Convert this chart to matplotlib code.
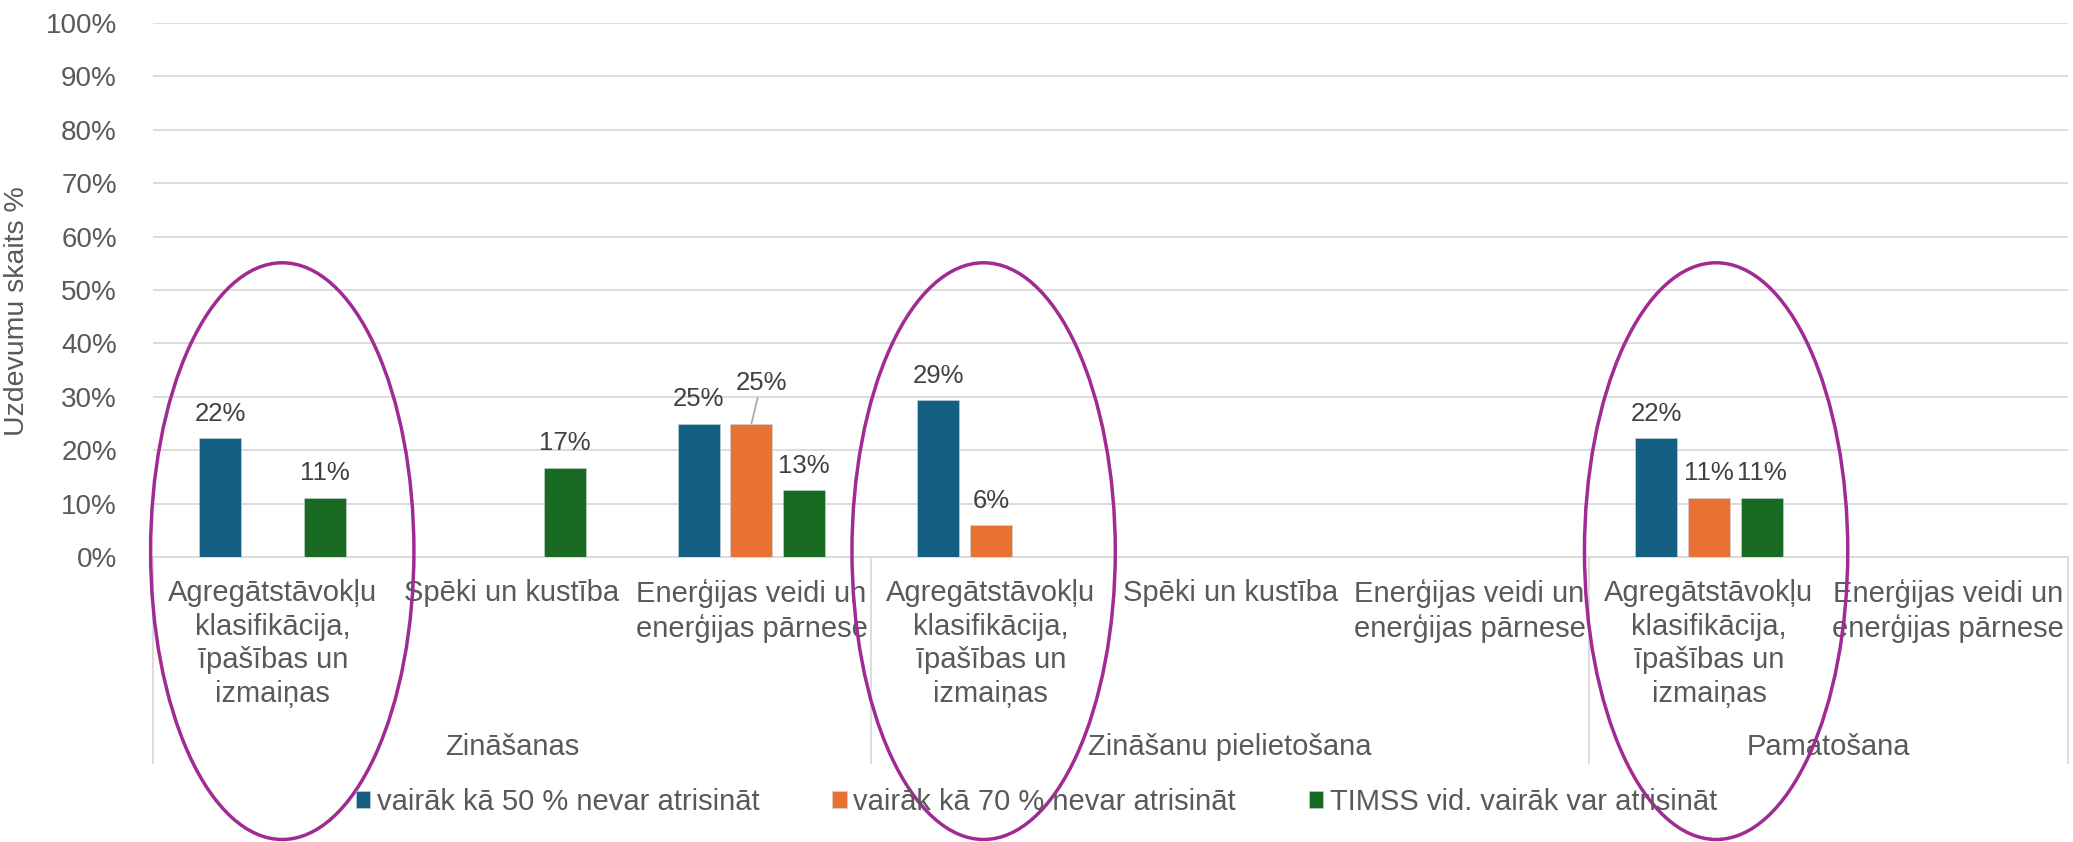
import matplotlib
matplotlib.use("Agg")
import matplotlib.pyplot as plt
from matplotlib.patches import Ellipse
import numpy as np

plt.rcParams['font.family'] = ['Liberation Sans', 'DejaVu Sans']

# dati
agreg = "Agregātstāvokļu\nklasifikācija,\nīpašības un\nizmaiņas"
speki = "Spēki un kustība"
energ = "Enerģijas veidi un\nenerģijas pārnese"
categories = [agreg, speki, energ, agreg, speki, energ, agreg, energ]
groups = ["Zināšanas", "Zināšanu pielietošana", "Pamatošana"]
group_sizes = [3, 3, 2]

series_names = ["vairāk kā 50 % nevar atrisināt",
                "vairāk kā 70 % nevar atrisināt",
                "TIMSS vid. vairāk var atrisināt"]
nan = np.nan
s50 = [22.2, nan, 25.0, 29.4, nan, nan, 22.2, nan]
s70 = [nan, nan, 25.0, 5.9, nan, nan, 11.1, nan]
timss = [11.1, 16.7, 12.5, nan, nan, nan, 11.1, nan]
colors = ['#156082', '#E97132', '#196B24']

highlight = [0, 3, 6]  # aplis ap šīm kategorijām

fig = plt.figure(figsize=(20.73, 8.42), dpi=100)
ax = fig.add_axes([153/2073, 1-557/842, 1915/2073, 534/842])

x = np.arange(len(categories))
step = 0.22
width = 0.175
grey_txt = '#595959'

for i, (vals, col, name) in enumerate(zip([s50, s70, timss], colors, series_names)):
    xs = x + (i-1)*step
    ax.bar(xs, vals, width=width, color=col, label=name, zorder=3,
           edgecolor='#c9d6df', linewidth=0.4)
    for j, v in enumerate(vals):
        if np.isnan(v):
            continue
        txt = f"{np.floor(v+0.5):.0f}%"
        if i == 1 and j == 2:
            # etiķete pārvietota ar līniju
            ax.annotate(txt, (xs[j], v), xytext=(7, 24), textcoords='offset points',
                        ha='center', va='baseline', fontsize=18.5, color='#404040',
                        arrowprops=dict(arrowstyle='-', color='#A6A6A6', lw=1.2,
                                        shrinkA=0, shrinkB=0), zorder=4)
        else:
            ax.annotate(txt, (xs[j], v), xytext=(0, 12.5), textcoords='offset points',
                        ha='center', va='baseline', fontsize=18.5, color='#404040', zorder=4)

ax.set_xlim(-0.5, len(categories)-0.5)
ax.set_ylim(0, 100)
ax.set_yticks(np.arange(0, 101, 10))
ax.set_yticklabels([f"{t}%" for t in range(0, 101, 10)])
ax.tick_params(axis='y', length=0, pad=26, labelsize=20, labelcolor=grey_txt)
ax.set_xticks([])
ax.grid(axis='y', color='#D9D9D9', lw=1.3, zorder=0)
for s in ['top', 'right', 'left']:
    ax.spines[s].set_visible(False)
ax.spines['bottom'].set_color('#D9D9D9')
ax.spines['bottom'].set_linewidth(1.3)

ax.set_ylabel("Uzdevumu skaits %", fontsize=20.5, color=grey_txt)
ax.yaxis.set_label_coords(-0.064, 0.46)

# kategoriju etiķetes
trans = ax.get_xaxis_transform()
for xi, lab in zip(x, categories):
    ax.text(xi, -0.041, lab, transform=trans, ha='center', va='top',
            fontsize=21, color=grey_txt, linespacing=1.26)

# grupu etiķetes un atdalītāji
bounds = np.concatenate([[0], np.cumsum(group_sizes)]) - 0.5
for b in bounds:
    ax.plot([b, b], [0, -0.386], transform=trans, color='#D9D9D9', lw=1.3, clip_on=False)
for g, a, b in zip(groups, bounds[:-1], bounds[1:]):
    ax.text((a+b)/2, -0.371, g, transform=trans, ha='center', va='baseline',
            fontsize=21, color=grey_txt)

# apļi
for k, h in enumerate(highlight):
    dx = [0.04, -0.03, 0.03][k]
    ax.add_patch(Ellipse((h+dx, 1.1), width=1.1, height=108, fill=False,
                         edgecolor='#A02B93', lw=2.5, clip_on=False, zorder=6))

fig.legend(loc='center', bbox_to_anchor=(0.5, 0.048), ncol=3, frameon=False,
           fontsize=21, handlelength=0.5, handleheight=0.5, handletextpad=0.22,
           columnspacing=2.5, labelcolor=grey_txt)

fig.savefig("out.png", dpi=100)
